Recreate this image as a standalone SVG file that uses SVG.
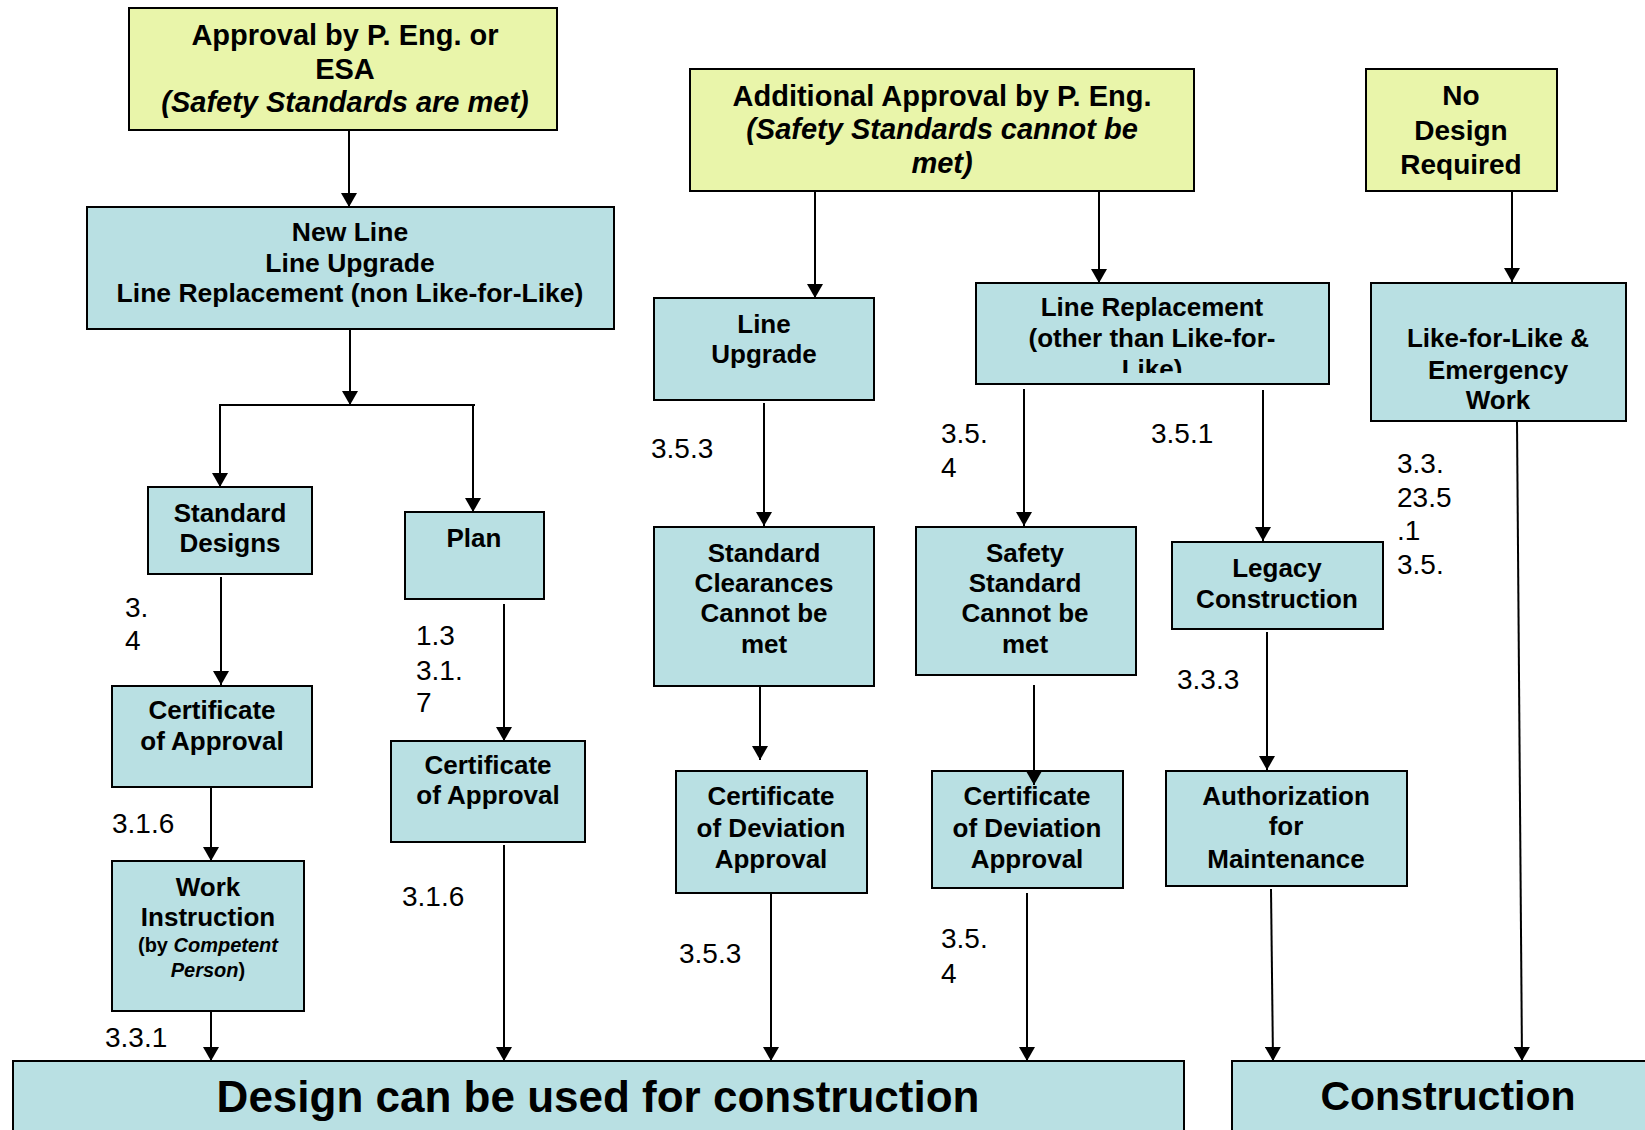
<svg xmlns="http://www.w3.org/2000/svg" width="1645" height="1130" viewBox="0 0 1645 1130">
<style>
text{font-family:"Liberation Sans",Arial,sans-serif;fill:#000;}
.y{fill:#E9F5AA;stroke:#000;stroke-width:2;}
.t{fill:#B9E0E3;stroke:#000;stroke-width:2;}
.b{font-weight:bold;text-anchor:middle;}
.f29{font-size:29px;}
.f28{font-size:28px;}
.f26{font-size:26px;}
.lab{font-size:28px;}
.c{stroke:#000;stroke-width:2;fill:none;marker-end:url(#ah);}
.ln{stroke:#000;stroke-width:2;fill:none;}
</style>
<defs>
<marker id="ah" markerUnits="userSpaceOnUse" markerWidth="15" markerHeight="16" refX="14" refY="8" orient="auto">
<path d="M0,0 L14,8 L0,16 z" fill="#000"/>
</marker>
<clipPath id="lrclip"><rect x="976" y="283" width="353" height="90"/></clipPath>
</defs>

<g id="n-approval">
<rect class="y" x="129" y="8" width="428" height="122"/>
<text class="b f29" x="345" y="45">Approval by P. Eng. or</text>
<text class="b f29" x="345" y="79">ESA</text>
<text class="b f29" x="345" y="112" font-style="italic">(Safety Standards are met)</text>
</g>

<g id="n-additional">
<rect class="y" x="690" y="69" width="504" height="122"/>
<text class="b f29" x="942" y="106">Additional Approval by P. Eng.</text>
<text class="b f29" x="942" y="139" font-style="italic">(Safety Standards cannot be</text>
<text class="b f29" x="942" y="173" font-style="italic">met)</text>
</g>

<g id="n-nodesign">
<rect class="y" x="1366" y="69" width="191" height="122"/>
<text class="b f28" x="1461" y="105">No</text>
<text class="b f28" x="1461" y="140">Design</text>
<text class="b f28" x="1461" y="174">Required</text>
</g>

<g id="n-newline">
<rect class="t" x="87" y="207" width="527" height="122"/>
<text class="b" font-size="26.5" x="350" y="241">New Line</text>
<text class="b" font-size="26.5" x="350" y="272">Line Upgrade</text>
<text class="b" font-size="26.5" x="350" y="302">Line Replacement (non Like-for-Like)</text>
</g>

<g id="n-lineupgrade">
<rect class="t" x="654" y="298" width="220" height="102"/>
<text class="b f26" x="764" y="333">Line</text>
<text class="b f26" x="764" y="363">Upgrade</text>
</g>

<g id="n-linereplacement">
<rect class="t" x="976" y="283" width="353" height="101"/>
<g clip-path="url(#lrclip)">
<text class="b f26" x="1152" y="316">Line Replacement</text>
<text class="b f26" x="1152" y="347">(other than Like-for-</text>
<text class="b f26" x="1152" y="378">Like)</text>
</g>
</g>

<g id="n-likeforlike">
<rect class="t" x="1371" y="283" width="255" height="138"/>
<text class="b f26" x="1498" y="347">Like-for-Like &amp;</text>
<text class="b f26" x="1498" y="379">Emergency</text>
<text class="b f26" x="1498" y="409">Work</text>
</g>

<g id="n-stddesigns">
<rect class="t" x="148" y="487" width="164" height="87"/>
<text class="b f26" x="230" y="522">Standard</text>
<text class="b f26" x="230" y="552">Designs</text>
</g>

<g id="n-plan">
<rect class="t" x="405" y="512" width="139" height="87"/>
<text class="b f26" x="474" y="547">Plan</text>
</g>

<g id="n-stdclear">
<rect class="t" x="654" y="527" width="220" height="159"/>
<text class="b f26" x="764" y="562">Standard</text>
<text class="b f26" x="764" y="592">Clearances</text>
<text class="b f26" x="764" y="622">Cannot be</text>
<text class="b f26" x="764" y="653">met</text>
</g>

<g id="n-safety">
<rect class="t" x="916" y="527" width="220" height="148"/>
<text class="b f26" x="1025" y="562">Safety</text>
<text class="b f26" x="1025" y="592">Standard</text>
<text class="b f26" x="1025" y="622">Cannot be</text>
<text class="b f26" x="1025" y="653">met</text>
</g>

<g id="n-legacy">
<rect class="t" x="1172" y="542" width="211" height="87"/>
<text class="b f26" x="1277" y="577">Legacy</text>
<text class="b f26" x="1277" y="608">Construction</text>
</g>

<g id="n-cert1">
<rect class="t" x="112" y="686" width="200" height="101"/>
<text class="b f26" x="212" y="719">Certificate</text>
<text class="b f26" x="212" y="750">of Approval</text>
</g>

<g id="n-cert2">
<rect class="t" x="391" y="741" width="194" height="101"/>
<text class="b f26" x="488" y="774">Certificate</text>
<text class="b f26" x="488" y="804">of Approval</text>
</g>

<g id="n-dev1">
<rect class="t" x="676" y="771" width="191" height="122"/>
<text class="b f26" x="771" y="805">Certificate</text>
<text class="b f26" x="771" y="837">of Deviation</text>
<text class="b f26" x="771" y="868">Approval</text>
</g>

<g id="n-dev2">
<rect class="t" x="932" y="771" width="191" height="117"/>
<text class="b f26" x="1027" y="805">Certificate</text>
<text class="b f26" x="1027" y="837">of Deviation</text>
<text class="b f26" x="1027" y="868">Approval</text>
</g>

<g id="n-auth">
<rect class="t" x="1166" y="771" width="241" height="115"/>
<text class="b f26" x="1286" y="805">Authorization</text>
<text class="b f26" x="1286" y="835">for</text>
<text class="b f26" x="1286" y="868">Maintenance</text>
</g>

<g id="n-work">
<rect class="t" x="112" y="861" width="192" height="150"/>
<text class="b f26" x="208" y="896">Work</text>
<text class="b f26" x="208" y="926">Instruction</text>
<text class="b" x="208" y="952" font-size="20">(by <tspan font-style="italic">Competent</tspan></text>
<text class="b" x="208" y="977" font-size="20"><tspan font-style="italic">Person</tspan>)</text>
</g>

<g id="n-design">
<rect class="t" x="13" y="1061" width="1171" height="90"/>
<text class="b" x="598" y="1112" font-size="44">Design can be used for construction</text>
</g>

<g id="n-construction">
<rect class="t" x="1232" y="1061" width="430" height="90"/>
<text class="b" x="1448" y="1110" font-size="41">Construction</text>
</g>

<g id="connectors">
<path class="c" d="M349,130 V207"/>
<path class="c" d="M350,329 V405"/>
<path class="ln" d="M219,405 H475"/>
<path class="c" d="M220,405 V487"/>
<path class="c" d="M473,405 V512"/>
<path class="c" d="M221,577 V685"/>
<path class="c" d="M504,604 V741"/>
<path class="c" d="M211,787 V861"/>
<path class="c" d="M211,1011 V1061"/>
<path class="c" d="M504,845 V1061"/>
<path class="c" d="M815,191 V298"/>
<path class="c" d="M1099,191 V283"/>
<path class="c" d="M764,403 V526"/>
<path class="c" d="M760,687 V760"/>
<path class="c" d="M771,893 V1061"/>
<path class="c" d="M1024,389 V526"/>
<path class="c" d="M1034,685 V785"/>
<path class="c" d="M1027,893 V1061"/>
<path class="c" d="M1512,191 V282"/>
<path class="c" d="M1263,390 V541"/>
<path class="c" d="M1267,632 V770"/>
<path class="c" d="M1271,889 L1273,1061"/>
<path class="c" d="M1517,421 L1522,1061"/>
</g>

<g id="labels" class="lab">
<text x="125" y="617">3.</text>
<text x="125" y="650">4</text>
<text x="416" y="645">1.3</text>
<text x="416" y="680">3.1.</text>
<text x="416" y="712">7</text>
<text x="112" y="833">3.1.6</text>
<text x="402" y="906">3.1.6</text>
<text x="105" y="1047">3.3.1</text>
<text x="651" y="458">3.5.3</text>
<text x="941" y="443">3.5.</text>
<text x="941" y="477">4</text>
<text x="1151" y="443">3.5.1</text>
<text x="679" y="963">3.5.3</text>
<text x="941" y="948">3.5.</text>
<text x="941" y="983">4</text>
<text x="1177" y="689">3.3.3</text>
<text x="1397" y="473">3.3.</text>
<text x="1397" y="507">23.5</text>
<text x="1397" y="540">.1</text>
<text x="1397" y="574">3.5.</text>
</g>
</svg>
